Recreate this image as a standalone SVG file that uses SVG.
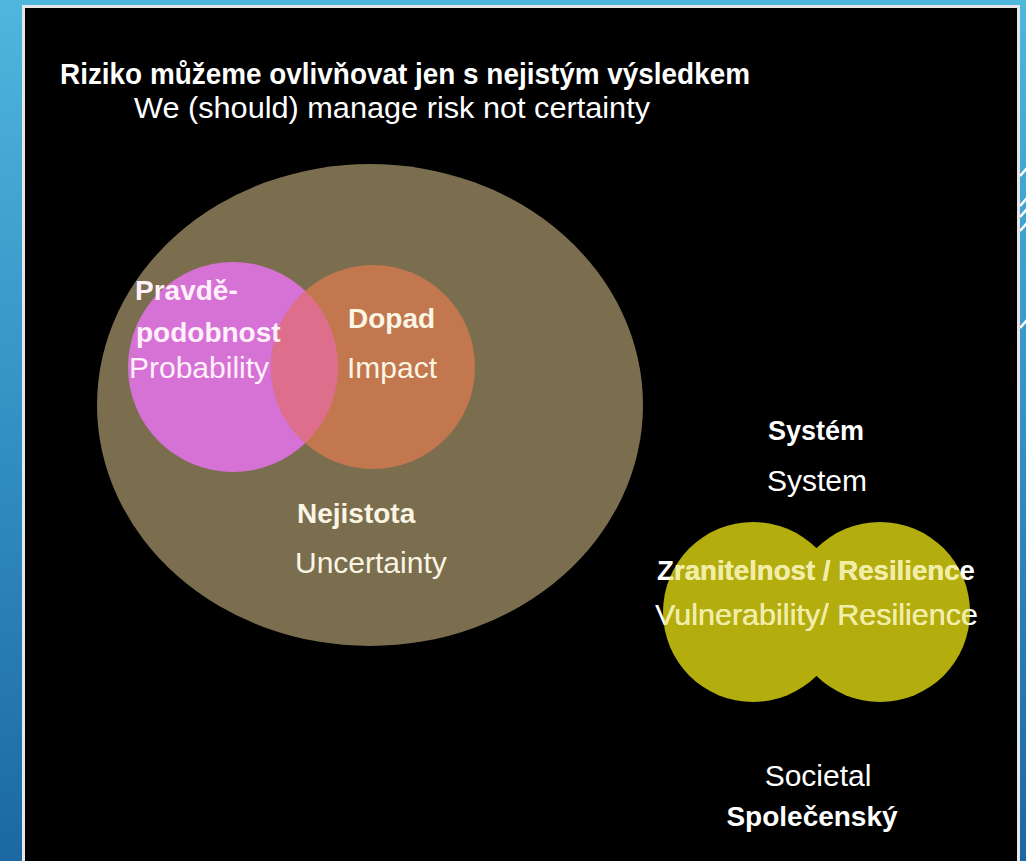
<svg xmlns="http://www.w3.org/2000/svg" width="1026" height="861" viewBox="0 0 1026 861">
  <defs>
    <linearGradient id="bg" x1="0" y1="0" x2="0" y2="1">
      <stop offset="0" stop-color="#4fb6dc"/>
      <stop offset="0.5" stop-color="#3390c4"/>
      <stop offset="1" stop-color="#1b68a2"/>
    </linearGradient>
    <clipPath id="clipYellow">
      <circle cx="753" cy="612" r="90"/>
      <circle cx="880" cy="612" r="90"/>
    </clipPath>
    <clipPath id="clipPink">
      <circle cx="233" cy="367" r="105"/>
    </clipPath>
    <style>
      .b { font-family: "Liberation Sans", Arial, sans-serif; font-weight: bold; }
      .r { font-family: "Liberation Sans", Arial, sans-serif; font-weight: normal; }
      .w { fill: #ffffff; }
      .cream { fill: #fbf5e4; }
      .pinkw { fill: #fff0fa; }
      .pale { fill: #f1eda2; }
      .deco { stroke: #ffffff; stroke-width: 2.5; fill: none; }
    </style>
  </defs>

  <!-- background -->
  <rect x="0" y="0" width="1026" height="861" fill="url(#bg)"/>
  <g id="decoration">
    <line class="deco" x1="1020" y1="176" x2="1027" y2="168"/>
    <line class="deco" x1="1020" y1="206" x2="1027" y2="198"/>
    <line class="deco" x1="1020" y1="217" x2="1027" y2="209"/>
    <line class="deco" x1="1020" y1="231" x2="1027" y2="223"/>
    <line class="deco" x1="1020" y1="328" x2="1027" y2="320"/>
  </g>
  <rect x="23.5" y="6.5" width="995" height="870" fill="#000000" stroke="#e6e6e6" stroke-width="3"/>

  <!-- title -->
  <g id="title">
    <text class="b w" x="60" y="84" font-size="30" textLength="690" lengthAdjust="spacingAndGlyphs">Riziko můžeme ovlivňovat jen s nejistým výsledkem</text>
    <text class="r w" x="134" y="118" font-size="30" textLength="516" lengthAdjust="spacingAndGlyphs">We (should) manage risk not certainty</text>
  </g>

  <!-- uncertainty ellipse -->
  <g id="uncertainty">
    <ellipse cx="370" cy="405" rx="273" ry="241" fill="#7a6e4f"/>
  </g>

  <!-- probability circle -->
  <g id="probability">
    <circle cx="233" cy="367" r="105" fill="#d672d6"/>
  </g>

  <!-- impact circle -->
  <g id="impact">
    <circle cx="373" cy="367" r="102" fill="#c2774f"/>
    <circle cx="373" cy="367" r="102" fill="#de6f8c" clip-path="url(#clipPink)"/>
  </g>

  <g id="labels-left">
    <text class="b pinkw" x="135" y="300" font-size="28">Pravdě-</text>
    <text class="b pinkw" x="136" y="342" font-size="28">podobnost</text>
    <text class="r pinkw" x="129" y="378" font-size="30">Probability</text>
    <text class="b cream" x="348" y="328" font-size="28">Dopad</text>
    <text class="r cream" x="347" y="378" font-size="30">Impact</text>
    <text class="b cream" x="297" y="523" font-size="28">Nejistota</text>
    <text class="r cream" x="295" y="573" font-size="30">Uncertainty</text>
  </g>

  <!-- system / societal vulnerability -->
  <g id="vulnerability">
    <circle cx="753" cy="612" r="90" fill="#b4ad0e"/>
    <circle cx="880" cy="612" r="90" fill="#b4ad0e"/>
    <text class="b w" x="657" y="580" font-size="28" textLength="318" lengthAdjust="spacingAndGlyphs">Zranitelnost / Resilience</text>
    <text class="r w" x="655" y="625" font-size="30" textLength="323" lengthAdjust="spacingAndGlyphs">Vulnerability/ Resilience</text>
    <g clip-path="url(#clipYellow)">
      <text class="b pale" x="657" y="580" font-size="28" textLength="318" lengthAdjust="spacingAndGlyphs">Zranitelnost / Resilience</text>
      <text class="r pale" x="655" y="625" font-size="30" textLength="323" lengthAdjust="spacingAndGlyphs">Vulnerability/ Resilience</text>
    </g>
  </g>

  <g id="system">
    <text class="b w" x="816" y="440" font-size="27" text-anchor="middle">Systém</text>
    <text class="r w" x="817" y="491" font-size="30" text-anchor="middle">System</text>
  </g>

  <g id="societal">
    <text class="r w" x="818" y="786" font-size="30" text-anchor="middle">Societal</text>
    <text class="b w" x="812" y="826" font-size="28" text-anchor="middle">Společenský</text>
  </g>

  <g id="connectors"/>
</svg>
